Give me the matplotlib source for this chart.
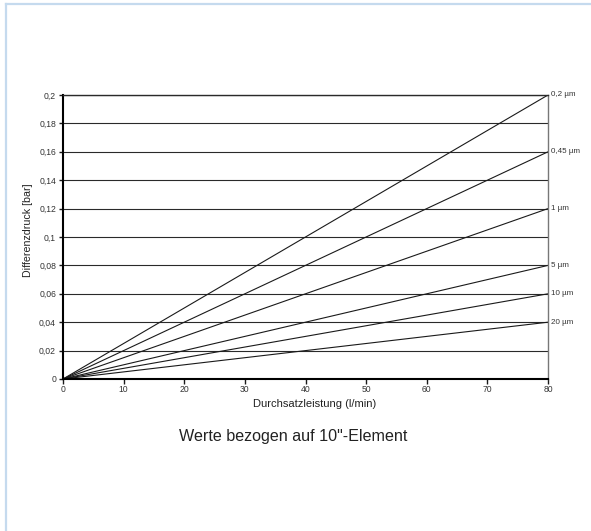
import matplotlib
matplotlib.use("Agg")
import matplotlib.pyplot as plt
from matplotlib.lines import Line2D

plt.rcParams['font.family'] = ['Liberation Sans', 'DejaVu Sans']

# Durchfluss-Endpunkt und Differenzdruck je Filterfeinheit
flow_max = 80
labels = ["0,2 µm", "0,45 µm", "1 µm", "5 µm", "10 µm", "20 µm"]
dp_at_max = [0.2, 0.16, 0.12, 0.08, 0.06, 0.04]

x_ticks = [0, 10, 20, 30, 40, 50, 60, 70, 80]
y_ticks = [0, 0.02, 0.04, 0.06, 0.08, 0.1, 0.12, 0.14, 0.16, 0.18, 0.2]
y_ticklabels = ["0", "0,02", "0,04", "0,06", "0,08", "0,1", "0,12", "0,14", "0,16", "0,18", "0,2"]

W, H = 591, 531
fig = plt.figure(figsize=(W / 100, H / 100), dpi=100)
ax = fig.add_axes([63 / W, 1 - 379 / H, 485 / W, 284 / H])

for yt in y_ticks[1:]:
    ax.axhline(yt, color="#2a2a2a", lw=0.8, zorder=1)

for lab, dp in zip(labels, dp_at_max):
    ax.plot([0, flow_max], [0, dp], color="#1a1a1a", lw=0.8, zorder=2)
    ax.annotate(lab, xy=(flow_max, dp), xytext=(2.5, 0), textcoords="offset points",
                ha="left", va="center", fontsize=5.8, color="#333333",
                annotation_clip=False)

ax.set_xlim(0, 80)
ax.set_ylim(0, 0.2)
ax.set_xticks(x_ticks)
ax.set_xticklabels([str(v) for v in x_ticks])
ax.set_yticks(y_ticks)
ax.set_yticklabels(y_ticklabels)
ax.tick_params(axis="both", direction="out", length=3, width=1, labelsize=6.2,
               colors="#1a1a1a", labelcolor="#333333", pad=2)
ax.tick_params(axis="x", length=3.5, pad=1)

ax.spines["left"].set_linewidth(1.5)
ax.spines["bottom"].set_linewidth(1.5)
ax.spines["right"].set_color("#777777")
ax.spines["right"].set_linewidth(1)
ax.spines["top"].set_linewidth(1)
ax.spines["top"].set_color("#2a2a2a")

fig.text(315 / W, 1 - 404 / H, "Durchsatzleistung (l/min)", ha="center", va="center",
         fontsize=8, color="#222222")
fig.text(28 / W, 1 - 230 / H, "Differenzdruck [bar]", ha="center", va="center",
         rotation=90, fontsize=7.7, color="#222222")

fig.text(293 / W, 1 - 436 / H, "Werte bezogen auf 10\"-Element", ha="center", va="center",
         fontsize=11.6, color="#222222")

# heller Rahmen oben und links
fig.add_artist(Line2D([5.5 / W, 5.5 / W], [0, 1 - 3.5 / H], transform=fig.transFigure,
                      color="#c5daee", lw=1.6))
fig.add_artist(Line2D([5.5 / W, 1], [1 - 3.5 / H, 1 - 3.5 / H], transform=fig.transFigure,
                      color="#c5daee", lw=1.6))

fig.savefig("out.png", dpi=100)
